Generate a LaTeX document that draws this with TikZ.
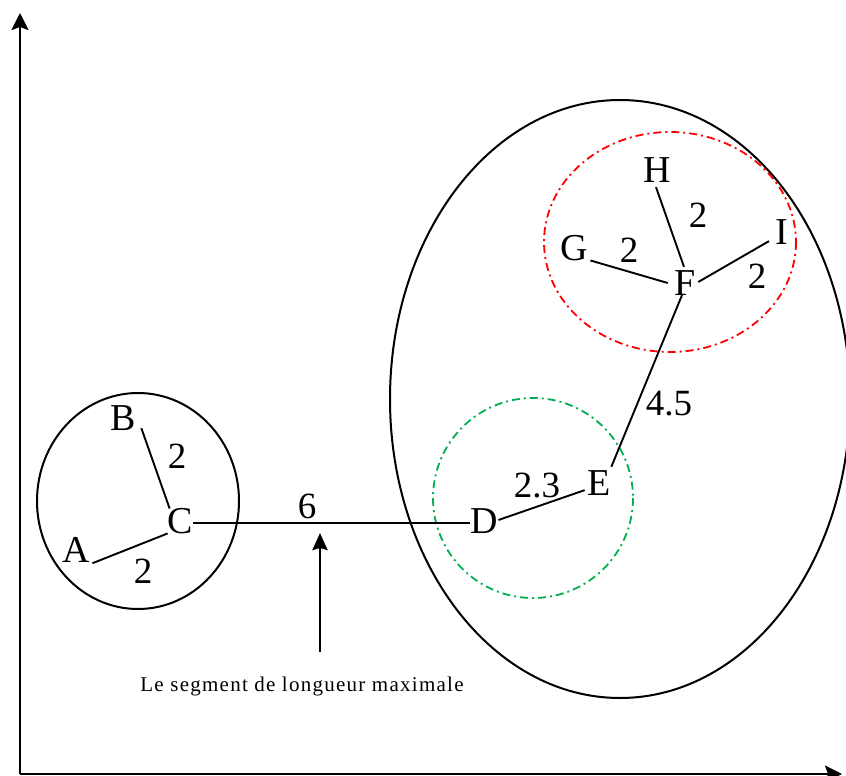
\documentclass[tikz,border=0pt]{standalone}
\usepackage{fontspec}
\setmainfont{Liberation Serif}
\usetikzlibrary{arrows.meta}
\definecolor{dgreen}{RGB}{0,176,80}
\definecolor{dred}{RGB}{255,0,0}
\begin{document}
\begin{tikzpicture}[x=1pt,y=-1pt,
  lbl/.style={font=\fontsize{38}{38}\selectfont, inner sep=0.5pt},
  num/.style={font=\fontsize{37}{37}\selectfont, inner sep=0pt},
  edgeline/.style={line width=1.9pt},
  outline/.style={line width=2pt},
  dotdash/.style={line width=1.8pt, dash pattern=on 8pt off 4pt on 2pt off 4pt},
  axis/.style={line width=2.6pt, -{Stealth[length=17pt,width=17pt,inset=3pt]}},
  pointer/.style={line width=2.6pt, -{Stealth[length=17pt,width=15pt,inset=2pt]}}
]
\useasboundingbox (0,0) rectangle (846,776);

% axes
\coordinate (O) at (20,774);
\coordinate (Ytop) at (20,13);
\coordinate (Xend) at (842,774);
\draw[axis] (O) -- (Ytop);
\draw[axis] (O) -- (Xend);

% clusters
\draw[outline] (138,501) ellipse [x radius=101, y radius=108];
\draw[outline] (620,399) ellipse [x radius=230, y radius=299];
\draw[dotdash, dgreen] (533,498) circle [radius=100];
\draw[dotdash, dred] (670,242) ellipse [x radius=126, y radius=110];

% points
\node[lbl] (A) at (76,550) {A};
\node[lbl] (B) at (123,418) {B};
\node[lbl] (C) at (180,521) {C};
\node[lbl] (D) at (484,521) {D};
\node[lbl] (E) at (599,483) {E};
\node[lbl] (F) at (685,283) {F};
\node[lbl] (G) at (574,248) {G};
\node[lbl] (H) at (657,170) {H};
\node[lbl] (I) at (782,232) {I};

% segments
\draw[edgeline] ([xshift=2pt]A.south east) -- ([xshift=1pt,yshift=1pt]C.south west);
\draw[edgeline] ([xshift=5pt,yshift=3pt]B.south east) -- ([xshift=3pt,yshift=-1pt]C.north west);
\draw[edgeline] ([yshift=-2pt]C.east) -- ([yshift=-2pt]D.west);
\draw[edgeline] ([yshift=1pt]D.east) -- ([xshift=-2pt,yshift=6pt]E.south west);
\draw[edgeline] ([yshift=3pt]E.north east) -- ([xshift=-3pt,yshift=1pt]F.south);
\draw[edgeline] ([xshift=2pt,yshift=1pt]G.south east) -- ([xshift=-6pt]F.west);
\draw[edgeline] ([xshift=-1pt,yshift=-4pt]H.south) -- ([xshift=-1pt,yshift=3pt]F.north);
\draw[edgeline] ([xshift=-6pt,yshift=4pt]I.south west) -- ([xshift=2pt,yshift=1pt]F.east);

% lengths
\node[num] (lBC) at (177,456) {2};
\node[num] (lAC) at (143,571) {2};
\node[num] (lCD) at (307,506) {6};
\node[num] (lDE) at (537,486) {2.3};
\node[num] (lEF) at (669,404) {4.5};
\node[num] (lGF) at (629,250) {2};
\node[num] (lHF) at (698,215) {2};
\node[num] (lIF) at (757,276) {2};

% annotation
\node[font=\fontsize{21}{21}\selectfont\addfontfeature{LetterSpace=6}, inner sep=0pt] (cap) at (302,686) {Le segment de longueur maximale};
\coordinate (pstart) at (320,652);
\coordinate (ptip) at (320,533);
\draw[pointer] (pstart) -- (ptip);
\end{tikzpicture}
\end{document}
